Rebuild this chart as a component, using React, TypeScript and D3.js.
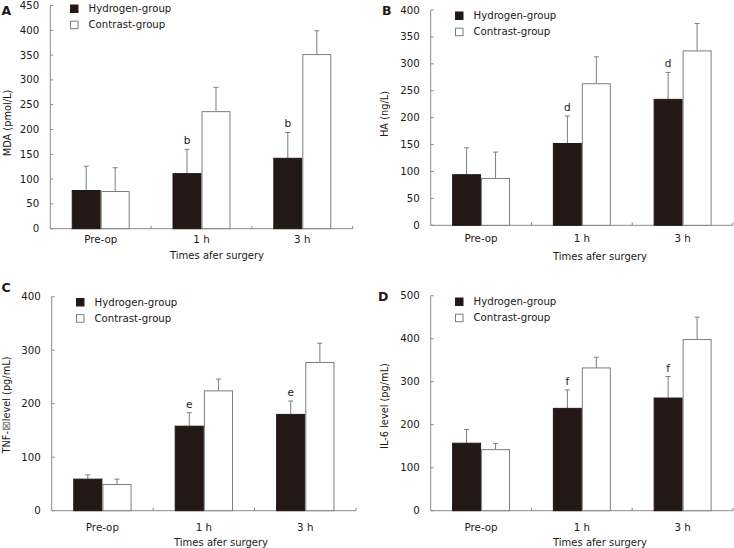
import React from 'react';
import * as d3 from 'd3';

// shared categories / series
const categories = ['Pre-op', '1 h', '3 h'];
const seriesNames = ['Hydrogen-group', 'Contrast-group'];
const xTitle = 'Times afer surgery';

// A: MDA
const mdaHydrogen = [77, 111, 142];
const mdaHydrogenSd = [49, 49, 52];
const mdaContrast = [75, 236, 351];
const mdaContrastSd = [48, 49, 48];
const mdaMarks = ['', 'b', 'b'];
const mdaTicks = [0, 50, 100, 150, 200, 250, 300, 350, 400, 450];

// B: HA
const haHydrogen = [94, 152, 234];
const haHydrogenSd = [50, 51, 50];
const haContrast = [87, 263, 324];
const haContrastSd = [49, 50, 51];
const haMarks = ['', 'd', 'd'];
const haTicks = [0, 50, 100, 150, 200, 250, 300, 350, 400];

// C: TNF
const tnfHydrogen = [59, 158, 180];
const tnfHydrogenSd = [8, 25, 25];
const tnfContrast = [49, 224, 277];
const tnfContrastSd = [10, 22, 36];
const tnfMarks = ['', 'e', 'e'];
const tnfTicks = [0, 100, 200, 300, 400];

// D: IL-6
const il6Hydrogen = [157, 238, 262];
const il6HydrogenSd = [32, 43, 50];
const il6Contrast = [142, 332, 398];
const il6ContrastSd = [14, 25, 52];
const il6Marks = ['', 'f', 'f'];
const il6Ticks = [0, 100, 200, 300, 400, 500];

const FONT = '"DejaVu Sans", Verdana, sans-serif';
const INK = '#231815';
const AXIS = '#8a8a8a';

const panels = [
  {
    letter: 'A', yLabel: ['MDA (pmol/L)'], ticks: mdaTicks,
    h: mdaHydrogen, hSd: mdaHydrogenSd, c: mdaContrast, cSd: mdaContrastSd, marks: mdaMarks,
    left: 50.3, right: 352.7, top: 5.5, zero: 228.7,
    letterX: 1.5, letterY: 15, yLabelX: 11, yLabelY: 123,
    legX: 70, legY: 4.5, catY: 243, titleY: 259, titleX: 217,
  },
  {
    letter: 'B', yLabel: ['HA (ng/L)'], ticks: haTicks,
    h: haHydrogen, hSd: haHydrogenSd, c: haContrast, cSd: haContrastSd, marks: haMarks,
    left: 430.7, right: 733, top: 10, zero: 225.3,
    letterX: 382, letterY: 15, yLabelX: 388, yLabelY: 114,
    legX: 455, legY: 11.5, catY: 242, titleY: 260, titleX: 600,
  },
  {
    letter: 'C', yLabel: ['TNF-', '\u22A0', 'level (pg/mL)'], ticks: tnfTicks,
    h: tnfHydrogen, hSd: tnfHydrogenSd, c: tnfContrast, cSd: tnfContrastSd, marks: tnfMarks,
    left: 51.7, right: 356, top: 296.7, zero: 510.7,
    letterX: 1.5, letterY: 292, yLabelX: 10, yLabelY: 405,
    legX: 76, legY: 298, catY: 531, titleY: 546, titleX: 221,
  },
  {
    letter: 'D', yLabel: ['IL-6 level (pg/mL)'], ticks: il6Ticks,
    h: il6Hydrogen, hSd: il6HydrogenSd, c: il6Contrast, cSd: il6ContrastSd, marks: il6Marks,
    left: 430.7, right: 733, top: 295.7, zero: 510.7,
    letterX: 378, letterY: 300.5, yLabelX: 388, yLabelY: 406,
    legX: 455, legY: 297.5, catY: 531, titleY: 546, titleX: 600,
  },
];

type Panel = typeof panels[number];

const BarPanel = ({ p }: { p: Panel }) => {
  const x = d3.scaleBand<string>().domain(categories).range([p.left, p.right])
    .paddingInner(0.425).paddingOuter(0.2125);
  const xs = d3.scaleBand<string>().domain(seriesNames).range([0, x.bandwidth()]);
  const y = d3.scaleLinear().domain([0, d3.max(p.ticks) as number]).range([p.zero, p.top]);
  const step = x.step();
  const series = [
    { name: seriesNames[0], vals: p.h, sd: p.hSd, fill: INK, stroke: INK },
    { name: seriesNames[1], vals: p.c, sd: p.cSd, fill: '#fff', stroke: '#7d7d7d' },
  ];

  return (
    <g fontFamily={FONT}>
      <text x={p.letterX} y={p.letterY} fontSize={12.5} fontWeight="bold" fill={INK}>{p.letter}</text>

      {/* axes */}
      <line x1={p.left} x2={p.left} y1={p.top} y2={p.zero} stroke={AXIS} />
      <line x1={p.left} x2={p.right} y1={p.zero} y2={p.zero} stroke={AXIS} />
      {p.ticks.map(t => (
        <g key={t}>
          <line x1={p.left} x2={p.left + 3} y1={y(t)} y2={y(t)} stroke={AXIS} />
          <text x={p.left - 11} y={y(t)} dy="0.35em" textAnchor="end" fontSize={10.2} fill={INK}>{t}</text>
        </g>
      ))}
      {categories.map((c, i) => (
        <line key={c} x1={p.left + step * (i + 1)} x2={p.left + step * (i + 1)}
          y1={p.zero} y2={p.zero - 3} stroke={AXIS} />
      ))}
      {categories.map(c => (
        <text key={c} x={(x(c) as number) + x.bandwidth() / 2} y={p.catY} textAnchor="middle"
          fontSize={10.3} fill={INK}>{c}</text>
      ))}
      <text x={p.titleX} y={p.titleY} textAnchor="middle" fontSize={10} fill={INK}>{xTitle}</text>
      <text transform={`translate(${p.yLabelX},${p.yLabelY}) rotate(-90)`} textAnchor="middle"
        fontSize={9.8} fill={INK}>
        {p.yLabel.map((part, k) => part === '\u22A0'
          ? <tspan key={k} fontSize={11.5} fill="#777">{part}</tspan>
          : <tspan key={k}>{part}</tspan>)}
      </text>

      {/* bars + error bars */}
      {series.map(s => categories.map((c, i) => {
        const bx = (x(c) as number) + (xs(s.name) as number);
        const bw = xs.bandwidth();
        const cx = bx + bw / 2;
        const top = y(s.vals[i]);
        const errTop = y(s.vals[i] + s.sd[i]);
        return (
          <g key={s.name + c}>
            <line x1={cx} x2={cx} y1={top} y2={errTop} stroke="#7d7d7d" />
            <line x1={cx - 2.5} x2={cx + 2.5} y1={errTop} y2={errTop} stroke="#7d7d7d" />
            <rect x={bx + 0.5} y={top} width={bw - 1} height={p.zero - top}
              fill={s.fill} stroke={s.stroke} />
          </g>
        );
      }))}

      {/* significance marks */}
      {categories.map((c, i) => p.marks[i] ? (
        <text key={c} x={(x(c) as number) + (xs(seriesNames[0]) as number) + xs.bandwidth() / 2}
          y={y(p.h[i] + p.hSd[i]) - 5} textAnchor="middle" fontSize={10.5} fill={INK}>{p.marks[i]}</text>
      ) : null)}

      {/* legend */}
      {series.map((s, k) => (
        <g key={s.name} transform={`translate(${p.legX},${p.legY + k * 16.2})`}>
          <rect x={0.5} y={0.5} width={7.5} height={7.5} fill={s.fill} stroke={s.stroke} />
          <text x={18.5} y={7.5} fontSize={10.2} fill={INK}>{s.name}</text>
        </g>
      ))}
    </g>
  );
};

export default function App() {
  return (
    <svg width={734} height={548} style={{ position: 'absolute', left: 0, top: 0, background: '#fff' }}>
      <rect width={734} height={548} fill="#fff" />
      {panels.map(p => <BarPanel key={p.letter} p={p} />)}
    </svg>
  );
}
